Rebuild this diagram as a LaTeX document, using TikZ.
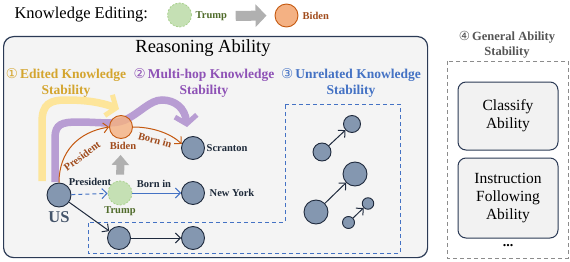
\documentclass[tikz,border=0pt]{standalone}
\usepackage{fontspec}
\setmainfont{Liberation Serif}
\newfontfamily\dejavu{DejaVu Sans}
\usetikzlibrary{arrows.meta,calc}
\definecolor{nodefill}{HTML}{8497B0}
\definecolor{nodeborder}{HTML}{1F2A3D}
\definecolor{boxfill}{HTML}{F4F4F4}
\definecolor{boxborder}{HTML}{2B3A55}
\definecolor{gold}{HTML}{D4A52E}
\definecolor{purp}{HTML}{8E52B6}
\definecolor{blu}{HTML}{4472C4}
\definecolor{yband}{HTML}{FDE59A}
\definecolor{pband}{HTML}{B89DD3}
\definecolor{trumpfill}{HTML}{C5E0B4}
\definecolor{trumpborder}{HTML}{A9D18E}
\definecolor{bidenfill}{HTML}{F4B183}
\definecolor{bidenborder}{HTML}{C55A11}
\definecolor{orangelab}{HTML}{A04B1C}
\definecolor{greenlab}{HTML}{4F6B2A}
\definecolor{uscol}{HTML}{44546A}
\definecolor{darklab}{HTML}{1E2A3A}
\definecolor{grayarrow}{HTML}{B0B0B0}
\definecolor{gengray}{HTML}{8C8C8C}
\definecolor{gentext}{HTML}{555555}
\definecolor{innerfill}{HTML}{F2F2F2}
\begin{document}
\begin{tikzpicture}[x=1pt,y=-1pt,
  kn/.style={circle,draw=nodeborder,fill=nodefill,line width=0.9pt,inner sep=0pt,minimum size=#1},
  kn/.default=23pt,
  trumpnode/.style={circle,fill=trumpfill,draw=trumpborder,line width=0.8pt,dash pattern=on 2pt off 1.5pt,inner sep=0pt,minimum size=#1},
  bidennode/.style={circle,fill=bidenfill,draw=bidenborder,line width=0.9pt,inner sep=0pt,minimum size=#1},
  sectitle/.style={font=\bfseries\fontsize{13.5}{16}\selectfont,align=center},
  lab/.style={font=\bfseries\fontsize{10.5}{12}\selectfont,inner sep=0.5pt},
  tip/.style={-{Straight Barb[length=5pt,width=10pt]}},
  darkarrow/.style={draw=nodeborder,line width=1pt,tip},
  bluearrow/.style={draw=blu,line width=1pt,tip},
  orangearrow/.style={draw=bidenborder,line width=1pt,tip},
  band/.style={line width=7.5pt,-{Straight Barb[length=8pt,width=22pt,line width=5pt]}},
  abilitybox/.style={draw=boxborder,fill=innerfill,line width=1pt,rounded corners=8pt,minimum width=100pt,align=center,font=\fontsize{15.5}{18}\selectfont},
]
\useasboundingbox (0,0) rectangle (570,262);
% ---------- legend ----------
\node[anchor=west,font=\fontsize{16.5}{18}\selectfont] (legend) at (11,15) {Knowledge Editing:};
\node[trumpnode=24pt] (lt) at (179.5,15) {};
\node[anchor=west,lab,text=greenlab] (ltt) at (195,16) {Trump};
\node[bidennode=23pt] (lb) at (286.5,15.5) {};
\node[anchor=west,lab,text=orangelab] (lbt) at (302,16) {Biden};
\draw[grayarrow,line width=10pt,-{Triangle[length=11pt,width=22pt]},shorten <=8pt,shorten >=8pt] (ltt.east) -- (lb.west);
% ---------- reasoning box ----------
\node[draw=boxborder,fill=boxfill,rounded corners=10pt,line width=1.2pt,minimum width=424pt,minimum height=221pt,anchor=north west,inner sep=0pt] (main) at (3,36) {};
\node[font=\fontsize{18.5}{20}\selectfont] (rtitle) at (203,48) {Reasoning Ability};
\node[sectitle,text=gold] (t1) at (66,83) {{\dejavu\mdseries ①}\,Edited Knowledge\\Stability};
\node[sectitle,text=purp] (t2) at (204,83) {{\dejavu\mdseries ②}\,Multi-hop Knowledge\\Stability};
\node[sectitle,text=blu] (t3) at (351,83) {{\dejavu\mdseries ③}\,Unrelated Knowledge\\Stability};
% unrelated region
\draw[blu,line width=1pt,dash pattern=on 4pt off 3pt] (285,104) -- (400,104) -- (400,253) -- (88,253) -- (88,222) -- (285,222) -- cycle;
% thick bands
\draw[band,yband] (42,181) -- (42,122) .. controls (42,104) and (50,100) .. (66,100) .. controls (85,100) and (100,102) .. (119,109);
\draw[band,pband] (55,182) -- (55,138) .. controls (55,124) and (62,122) .. (78,122) .. controls (100,122) and (113,125) .. (125,120) .. controls (140,113) and (150,100) .. (162,100) .. controls (175,100) and (185,108) .. (187,127);
% nodes
\node[kn=24pt] (US) at (59,195) {};
\node[font=\bfseries\fontsize{16.5}{18}\selectfont,text=uscol] (uslab) at (59,217) {US};
\node[trumpnode=24pt] (Trump) at (120,193) {};
\node[lab,text=greenlab] (trumplab) at (120,211) {Trump};
\node[kn] (NY) at (193,193) {};
\node[lab,anchor=west,text=darklab] (nylab) at (209,193) {New York};
\node[bidennode=23pt,fill opacity=0.82] (Biden) at (121,127) {};
\node[lab,text=orangelab] (bidenlab) at (123,146) {Biden};
\node[kn] (Scr) at (193,148) {};
\node[lab,anchor=west,text=darklab] (scrlab) at (206,148) {Scranton};
\node[kn] (B1) at (119,238) {};
\node[kn] (B2) at (193,238) {};
% connectors
\draw[bluearrow,dash pattern=on 4pt off 3pt] (US) -- (Trump);
\draw[bluearrow] (Trump) -- (NY);
\node[lab,text=darklab] (pres1) at (90,182) {President};
\node[lab,text=darklab] (born1) at (154,184) {Born in};
\draw[darkarrow] (US) -- (B1);
\draw[darkarrow] (B1) -- (B2);
\draw[orangearrow] (US.north) .. controls (59,152) and (78,132) .. (Biden.west);
\draw[orangearrow] (Biden.east) .. controls (152,127) and (170,133) .. (Scr.160);
\node[lab,text=orangelab,rotate=37] (pres2) at (82,156) {President};
\node[lab,text=orangelab,rotate=-15] (born2) at (155,140) {Born in};
\draw[grayarrow,line width=8pt,-{Triangle[length=10pt,width=17pt]},shorten <=6pt,shorten >=16pt] (Trump.north) -- (Biden.south);
% unrelated knowledge nodes
\node[kn=18pt] (ua) at (322,152) {};
\node[kn=17pt] (ub) at (352,124) {};
\node[kn=24pt] (uc) at (316,212) {};
\node[kn=24pt] (ud) at (355,174) {};
\node[kn=12pt] (ue) at (348.5,222.5) {};
\node[kn=11.5pt] (uf) at (368,203.5) {};
\draw[darkarrow] (ua) -- (ub);
\draw[darkarrow] (uc) -- (ud);
\draw[darkarrow] (ue) -- (uf);
% ---------- general ability ----------
\node[font=\bfseries\fontsize{12.5}{15}\selectfont,text=gentext,align=center] (t4) at (507,45) {{\dejavu\mdseries ④}\,General Ability\\Stability};
\draw[gengray,line width=0.9pt,dash pattern=on 4pt off 3pt] (447,61) rectangle (568,258);
\node[abilitybox,minimum height=68pt] (classify) at (508,116) {Classify\\Ability};
\node[abilitybox,minimum height=80pt] (instr) at (508,198) {Instruction\\Following\\Ability};
\node[font=\bfseries\fontsize{14}{16}\selectfont] (dots) at (508,246) {...};
\end{tikzpicture}
\end{document}
